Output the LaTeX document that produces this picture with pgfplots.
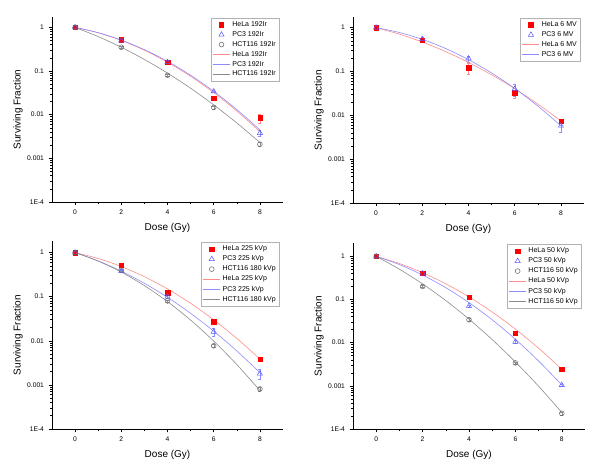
\documentclass[border=0pt]{standalone}
\usepackage{pgfplots}
\pgfplotsset{compat=1.18}
\usepackage{fontspec}
\setmainfont{Liberation Sans}
\definecolor{hela}{RGB}{255,0,0}
\definecolor{pcthree}{RGB}{90,90,255}
\definecolor{hct}{RGB}{100,100,100}
\definecolor{helaL}{RGB}{255,140,140}
\definecolor{pcthreeL}{RGB}{140,140,255}
\definecolor{hctL}{RGB}{140,140,140}
\pgfplotsset{
  every axis/.append style={
    scale only axis, width=231pt,
    xmin=-1, xmax=9, ymin=1e-4,
    axis x line*=bottom, axis y line*=left,
    axis line style={-, black, line width=0.6pt},
    tick align=outside,
    xtick={0,2,4,6,8}, minor xtick={1,3,5,7},
    ytick={1e-4,1e-3,1e-2,1e-1,1},
    yticklabels={1E-4,0.001,0.01,0.1,1},
    minor ytick={2e-4,3e-4,4e-4,5e-4,6e-4,7e-4,8e-4,9e-4,2e-3,3e-3,4e-3,5e-3,6e-3,7e-3,8e-3,9e-3,0.02,0.03,0.04,0.05,0.06,0.07,0.08,0.09,0.2,0.3,0.4,0.5,0.6,0.7,0.8,0.9},
    major tick length=3.5pt, minor tick length=2pt,
    tick style={black, line width=0.5pt},
    ticklabel style={font=\fontsize{6.7}{8}\selectfont},
    xticklabel style={yshift=-1pt},
    yticklabel style={xshift=-1pt},
    xlabel={Dose (Gy)}, ylabel={Surviving Fraction},
    label style={font=\fontsize{9.7}{11}\selectfont},
    every axis x label/.style={at={(0.5,0)}, anchor=center, yshift=-26pt},
    every axis y label/.style={at={(0,0.5)}, anchor=center, rotate=90, yshift=34pt},
    legend style={at={(0.985,0.995)}, anchor=north east, draw=black!30, line width=0.5pt,
      font=\fontsize{7}{7.5}\selectfont, row sep=-0.5pt, inner sep=1.5pt},
    legend cell align=left,
  },
  hm/.style={only marks, mark=square*, mark size=2.2pt, color=hela, mark options={fill=hela, draw=hela}},
  pm/.style={only marks, mark=triangle, mark size=3pt, color=pcthree, mark options={draw=pcthree, fill=none, line width=0.5pt}},
  cm/.style={only marks, mark=o, mark size=2.4pt, color=hct, mark options={draw=hct, line width=0.5pt}},
  hl/.style={no marks, smooth, helaL, line width=0.6pt},
  pl/.style={no marks, smooth, pcthreeL, line width=0.6pt},
  cl/.style={no marks, smooth, hctL, line width=0.6pt},
}
\begin{document}
\begin{tikzpicture}
\useasboundingbox (0pt,0pt) rectangle (600pt,468pt);
% ---------------- Top left: 192Ir
\begin{semilogyaxis}[/pgf/number format/assume math mode=true, at={(52pt,266pt)}, anchor=south west, height=185pt, ymax=1.73]
\addplot[hm, error bars/.cd, y dir=both, y explicit, error bar style={helaL}, error mark options={rotate=90, mark size=1.5pt, helaL}] coordinates {(0,1) +- (0,0.03) (2,0.52) +- (0,0.03) (4,0.16) +- (0,0.01) (6,0.024) +- (0,0.003) (8,0.0085) +- (0,0.002)};
\addplot[pm, error bars/.cd, y dir=both, y explicit, error bar style={pcthreeL}, error mark options={rotate=90, mark size=1.5pt, pcthreeL}] coordinates {(0,1) +- (0,0.02) (2,0.50) +- (0,0.03) (4,0.16) +- (0,0.01) (6,0.034) +- (0,0.002) (8,0.0038) +- (0,0.0006)};
\addplot[cm, error bars/.cd, y dir=both, y explicit, error bar style={hctL}, error mark options={rotate=90, mark size=1.5pt, hctL}] coordinates {(0,1) +- (0,0.02) (2,0.35) +- (0,0.02) (4,0.080) +- (0,0.004) (6,0.0147) +- (0,0.001) (8,0.0021) +- (0,0.0002)};
\addplot[hl] coordinates {(0,1) (1,0.750) (2,0.502) (3,0.299) (4,0.159) (5,0.0758) (6,0.0321) (7,0.01215) (8,0.00411)};
\addplot[pl] coordinates {(0,1) (1,0.758) (2,0.513) (3,0.309) (4,0.1666) (5,0.080) (6,0.0343) (7,0.0131) (8,0.00448)};
\addplot[cl] coordinates {(0,1) (1,0.615) (2,0.350) (3,0.184) (4,0.0896) (5,0.0404) (6,0.0168) (7,0.00647) (8,0.00231)};
\legend{HeLa 192Ir, PC3 192Ir, HCT116 192Ir, HeLa 192Ir, PC3 192Ir, HCT116 192Ir}
\end{semilogyaxis}
% ---------------- Top right: 6 MV
\begin{semilogyaxis}[/pgf/number format/assume math mode=true, at={(353pt,265pt)}, anchor=south west, height=186pt, ymax=1.75]
\addplot[hm, error bars/.cd, y dir=both, y explicit, error bar style={helaL}, error mark options={rotate=90, mark size=1.5pt, helaL}] coordinates {(0,1) +- (0,0.03) (2,0.51) +- (0,0.03) (4,0.121) +- (0,0.035) (6,0.033) +- (0,0.008) (8,0.0073) +- (0,0.0008)};
\addplot[pm, error bars/.cd, y dir=both, y explicit, error bar style={pcthreeL}, error mark options={rotate=90, mark size=1.5pt, pcthreeL}] coordinates {(0,1) +- (0,0.03) (2,0.55) +- (0,0.04) (4,0.197) +- (0,0.03) (6,0.040) +- (0,0.012) (8,0.0058) +- (0,0.0016)};
\addplot[hl] coordinates {(0,1) (1,0.712) (2,0.470) (3,0.286) (4,0.161) (5,0.0842) (6,0.0406) (7,0.0181) (8,0.00748)};
\addplot[pl] coordinates {(0,1) (1,0.777) (2,0.540) (3,0.336) (4,0.186) (5,0.0926) (6,0.0411) (7,0.0163) (8,0.00579)};
\legend{HeLa 6 MV, PC3 6 MV, HeLa 6 MV, PC3 6 MV}
\end{semilogyaxis}
% ---------------- Bottom left: 225 kVp
\begin{semilogyaxis}[/pgf/number format/assume math mode=true, at={(52pt,39pt)}, anchor=south west, height=188pt, ymax=1.83]
\addplot[hm, error bars/.cd, y dir=both, y explicit, error bar style={helaL}, error mark options={rotate=90, mark size=1.5pt, helaL}] coordinates {(0,1) +- (0,0.02) (2,0.525) +- (0,0.03) (4,0.122) +- (0,0.008) (6,0.027) +- (0,0.002) (8,0.0038) +- (0,0.0004)};
\addplot[pm, error bars/.cd, y dir=both, y explicit, error bar style={pcthreeL}, error mark options={rotate=90, mark size=1.5pt, pcthreeL}] coordinates {(0,1) +- (0,0.02) (2,0.38) +- (0,0.02) (4,0.10) +- (0,0.008) (6,0.016) +- (0,0.003) (8,0.0018) +- (0,0.00045)};
\addplot[cm, error bars/.cd, y dir=both, y explicit, error bar style={hctL}, error mark options={rotate=90, mark size=1.5pt, hctL}] coordinates {(0,1) +- (0,0.02) (2,0.40) +- (0,0.02) (4,0.080) +- (0,0.005) (6,0.0077) +- (0,0.0005) (8,0.00081) +- (0,0.00008)};
\addplot[hl] coordinates {(0,1) (1,0.733) (2,0.482) (3,0.284) (4,0.150) (5,0.0707) (6,0.0299) (7,0.01133) (8,0.00385)};
\addplot[pl] coordinates {(0,1) (1,0.647) (2,0.379) (3,0.201) (4,0.0966) (5,0.0420) (6,0.01652) (7,0.00589) (8,0.00190)};
\addplot[cl] coordinates {(0,1) (1,0.641) (2,0.361) (3,0.178) (4,0.0773) (5,0.0295) (6,0.00985) (7,0.00289) (8,0.000747)};
\legend{HeLa 225 kVp, PC3 225 kVp, HCT116 180 kVp, HeLa 225 kVp, PC3 225 kVp, HCT116 180 kVp}
\end{semilogyaxis}
% ---------------- Bottom right: 50 kVp
\begin{semilogyaxis}[/pgf/number format/assume math mode=true, at={(353pt,39pt)}, anchor=south west, width=232pt, height=186pt, ymax=2.04]
\addplot[hm, error bars/.cd, y dir=both, y explicit, error bar style={helaL}, error mark options={rotate=90, mark size=1.5pt, helaL}] coordinates {(0,1) +- (0,0.02) (2,0.41) +- (0,0.02) (4,0.113) +- (0,0.006) (6,0.0168) +- (0,0.001) (8,0.0024) +- (0,0.0002)};
\addplot[pm, error bars/.cd, y dir=both, y explicit, error bar style={pcthreeL}, error mark options={rotate=90, mark size=1.5pt, pcthreeL}] coordinates {(0,1) +- (0,0.02) (2,0.40) +- (0,0.02) (4,0.071) +- (0,0.004) (6,0.0105) +- (0,0.0008) (8,0.00104) +- (0,0.00006)};
\addplot[cm, error bars/.cd, y dir=both, y explicit, error bar style={hctL}, error mark options={rotate=90, mark size=1.5pt, hctL}] coordinates {(0,1) +- (0,0.02) (2,0.20) +- (0,0.01) (4,0.034) +- (0,0.002) (6,0.0034) +- (0,0.0002) (8,0.00023) +- (0,0.00002)};
\addplot[hl] coordinates {(0,1) (1,0.682) (2,0.419) (3,0.231) (4,0.1149) (5,0.0513) (6,0.0206) (7,0.00745) (8,0.00242)};
\addplot[pl] coordinates {(0,1) (1,0.646) (2,0.370) (3,0.188) (4,0.0848) (5,0.0339) (6,0.0120) (7,0.00377) (8,0.00105)};
\addplot[cl] coordinates {(0,1) (1,0.505) (2,0.230) (3,0.0946) (4,0.0352) (5,0.0118) (6,0.00357) (7,0.00098) (8,0.000242)};
\legend{HeLa 50 kVp, PC3 50 kVp, HCT116 50 kVp, HeLa 50 kVp, PC3 50 kVp, HCT116 50 kVp}
\end{semilogyaxis}
\end{tikzpicture}
\end{document}
